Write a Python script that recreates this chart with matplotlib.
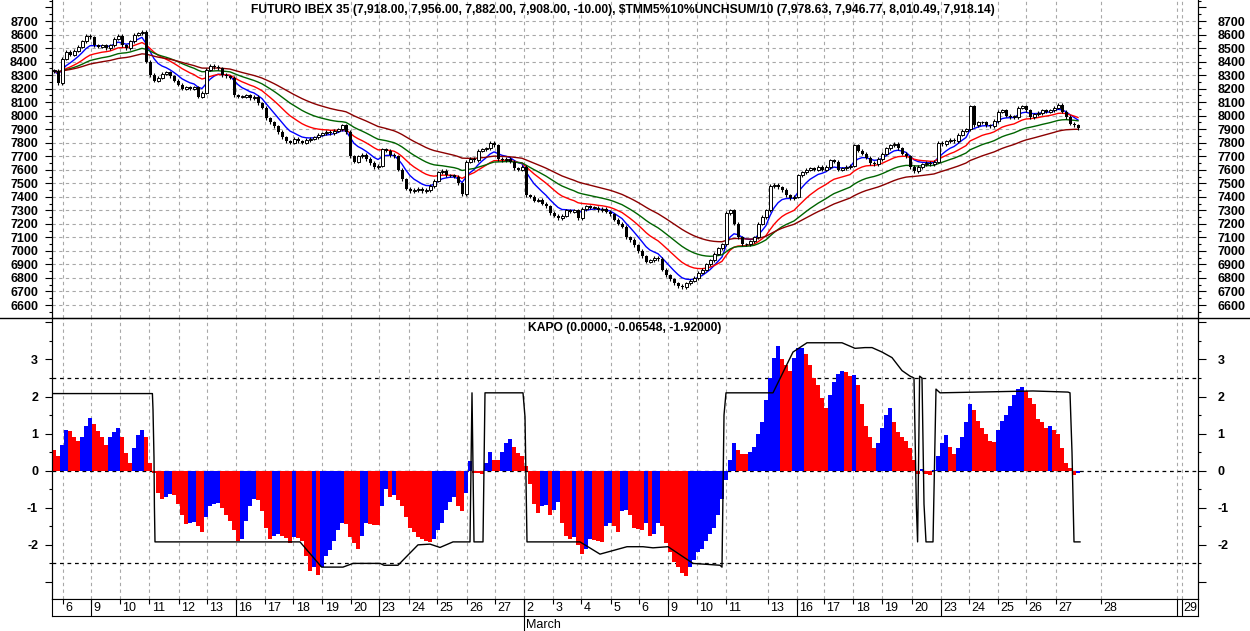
import matplotlib
matplotlib.use("Agg")
import matplotlib.pyplot as plt
from matplotlib.lines import Line2D
from matplotlib.ticker import FixedLocator, FuncFormatter
import numpy as np
import pandas as pd

plt.rcParams["font.family"] = ["Liberation Sans", "DejaVu Sans"]

# one close per bar (Feb 5 .. Mar 27)
closes = [
    8330, 8240, 8420, 8470, 8450, 8480, 8510, 8550, 8590, 8580,
    8520, 8510, 8520, 8500, 8520, 8570, 8590, 8520, 8500, 8550,
    8600, 8610, 8620, 8400, 8300, 8260, 8280, 8310, 8320, 8290,
    8260, 8230, 8200, 8210, 8200, 8210, 8140, 8170, 8340, 8370,
    8360, 8350, 8300, 8290, 8280, 8150, 8140, 8140, 8150, 8130,
    8140, 8090, 8060, 7980, 7950, 7920, 7880, 7840, 7810, 7800,
    7830, 7810, 7800, 7820, 7830, 7840, 7860, 7870, 7880, 7870,
    7890, 7900, 7930, 7880, 7700, 7660, 7700, 7710, 7680, 7650,
    7620, 7630, 7750, 7740, 7710, 7700, 7600, 7530, 7460, 7440,
    7450, 7460, 7440, 7450, 7480, 7520, 7580, 7590, 7560, 7560,
    7550, 7500, 7420, 7660, 7680, 7670, 7740, 7750, 7760, 7800,
    7780, 7680, 7670, 7680, 7660, 7610, 7600, 7620, 7410, 7400,
    7370, 7380, 7350, 7330, 7280, 7260, 7240, 7260, 7300, 7290,
    7300, 7240, 7310, 7330, 7320, 7320, 7300, 7310, 7290, 7270,
    7230, 7200, 7180, 7100, 7080, 7040, 7000, 6960, 6920, 6930,
    6950, 6940, 6860, 6820, 6790, 6760, 6740, 6730, 6760, 6780,
    6800, 6840, 6860, 6900, 6930, 6980, 7020, 7050, 7280, 7300,
    7200, 7100, 7050, 7050, 7070, 7100, 7200, 7250, 7300, 7480,
    7490, 7470, 7450, 7410, 7390, 7400, 7560, 7580, 7600, 7610,
    7600, 7620, 7600, 7620, 7670, 7660, 7600, 7610, 7620, 7630,
    7780, 7740, 7720, 7690, 7650, 7640, 7680, 7720, 7760, 7780,
    7790, 7760, 7720, 7700, 7620, 7590, 7620, 7640, 7650, 7640,
    7660, 7800, 7790, 7810, 7820, 7810, 7860, 7890, 7900, 8070,
    7930, 7950, 7950, 7930, 7920, 7960, 8030, 8040, 8000, 7990,
    7990, 8060, 8070, 8040, 7990, 8010, 8020, 8040, 8030, 8040,
    8060, 8080, 8030, 7990, 7940, 7930, 7908,
]

kapo = [
    0.55, 0.4, 0.7, 1.1, 1.08, 0.9, 0.8, 0.9, 1.2, 1.42,
    1.25, 1.08, 0.9, 0.7, 0.9, 1.05, 1.15, 0.92, 0.47, 0.22,
    0.6, 0.95, 1.1, 0.9, 0.2, -0.05, -0.6, -0.75, -0.7, -0.62,
    -0.65, -0.9, -1.2, -1.45, -1.4, -1.38, -1.5, -1.65, -1.25, -0.95,
    -0.9, -0.88, -1.0, -1.2, -1.35, -1.6, -1.9, -1.85, -1.35, -0.95,
    -0.75, -0.8, -1.1, -1.55, -1.85, -1.75, -1.72, -1.77, -1.82, -1.95,
    -1.8, -1.82, -1.9, -2.3, -2.7, -2.6, -2.8, -2.6, -2.3, -2.15,
    -1.9, -1.6, -1.4, -1.45, -1.8, -1.95, -2.1, -1.75, -1.4, -1.45,
    -1.46, -1.47, -0.95, -0.5, -0.7, -0.65, -0.8, -0.95, -1.25, -1.55,
    -1.65, -1.8, -1.85, -1.9, -1.92, -1.85, -1.6, -1.4, -1.05, -0.85,
    -0.7, -0.95, -1.1, -0.6, 0.25, -0.05, -0.06, -0.08, 0.2, 0.5,
    0.3, 0.29, 0.5, 0.75, 0.85, 0.65, 0.48, 0.4, 0.12, -0.35,
    -0.9, -1.15, -0.95, -0.93, -1.2, -1.05, -0.85, -1.4, -1.75, -1.85,
    -1.8, -2.0, -2.25, -2.1, -1.85, -1.87, -1.9, -1.92, -1.5, -1.4,
    -1.5, -1.65, -1.1, -1.05, -1.2, -1.55, -1.58, -1.6, -1.4, -1.75,
    -1.7, -1.4, -1.5, -1.95, -2.2, -2.45, -2.6, -2.75, -2.85, -2.6,
    -2.4, -2.2, -2.1, -1.9, -1.7, -1.55, -1.2, -0.75, -0.25, 0.3,
    0.75, 0.55, 0.45, 0.44, 0.5, 0.65, 1.0, 1.3, 1.9, 2.5,
    3.05, 3.35, 3.0, 2.85, 2.7, 3.05, 3.3, 3.32, 3.15, 2.85,
    2.5, 2.3, 1.95, 1.7, 2.05, 2.4, 2.6, 2.7, 2.65, 2.55,
    2.57, 2.3, 1.8, 1.2, 0.9, 0.6, 0.75, 1.15, 1.5, 1.7,
    1.3, 1.05, 0.9, 0.8, 0.6, 0.3, -0.1, 0.05, -0.1, -0.12,
    0.02, 0.4, 0.75, 0.95, 0.65, 0.45, 0.6, 0.9, 1.3, 1.8,
    1.65, 1.35, 1.15, 1.0, 0.8, 0.78, 1.1, 1.35, 1.5, 1.75,
    2.05, 2.2, 2.25, 2.15, 1.95, 1.8, 1.4, 1.3, 1.15, 1.2,
    1.1, 1.0, 0.6, 0.2, 0.08, -0.12, -0.065,
]

# KAPO signal line, vertices as (bar position, value)
signal_pos = [
    -0.5, 24.6, 24.75, 25.0, 25.1, 25.25, 61.5, 66.9, 72.25, 74.75,
    81.5, 82.5, 86.0, 91.0, 94.0, 96.5, 99.75, 104.0, 104.5, 105.0,
    107.25, 107.75, 117.25, 117.75, 118.25, 131.5, 136.5, 143.25, 147.25, 149.75,
    153.5, 159.75, 166.5, 167.0, 167.5, 168.0, 179.75, 184.75, 188.25, 197.0,
    200.25, 202.75, 204.5, 207.0, 209.5, 212.0, 214.0, 215.0, 215.6, 215.9,
    216.4, 217.0, 217.5, 218.0, 219.75, 220.5, 221.5, 244.75, 253.5, 254.0,
    254.5, 255.0, 256.5,
]
signal_val = [
    2.08, 2.08, 1.65, 0.35, -0.95, -1.92, -1.92, -2.6, -2.6, -2.5,
    -2.5, -2.55, -2.55, -2.0, -1.98, -2.07, -1.92, -1.92, 2.1, -1.92,
    -1.92, 2.1, 2.1, 1.45, -1.92, -1.92, -2.25, -2.05, -2.05, -2.08,
    -2.05, -2.5, -2.55, -2.6, 1.5, 2.1, 2.1, 3.2, 3.45, 3.45,
    3.3, 3.32, 3.32, 3.2, 3.05, 2.7, 2.55, 2.5, -1.0, -1.92,
    2.55, 2.5, -0.9, -1.92, -1.92, 2.2, 2.1, 2.15, 2.12, 2.1,
    0.5, -1.92, -1.92,
]

day_labels = ["6", "9", "10", "11", "12", "13", "16", "17", "18", "19", "20",
              "23", "24", "25", "26", "27", "2", "3", "4", "5", "6", "9", "10",
              "11", "13", "16", "17", "18", "19", "20", "23", "24", "25", "26",
              "27", "28"]
day_pos = [2.18, 9.33, 16.43, 23.83, 31.18, 38.18, 45.43, 52.68, 59.83, 67.08,
           74.18, 81.33, 88.63, 95.83, 103.18, 110.25, 117.43, 124.68, 131.83,
           139.18, 146.25, 153.43, 160.68, 167.93, 178.43, 185.68, 192.5,
           199.83, 206.93, 214.43, 221.68, 228.75, 235.93, 242.93, 250.43, 261.68]
week_pos = [9.33, 45.43, 81.33, 117.43, 153.43, 185.68, 221.68, 280.75, 282.1]
month_pos = 117.43
month_label = "March"
last_label = "29"

title_top = ("FUTURO IBEX 35 (7,918.00, 7,956.00, 7,882.00, 7,908.00, -10.00), "
             "$TMM5%10%UNCHSUM/10 (7,978.63, 7,946.77, 8,010.49, 7,918.14)")
title_kapo = "KAPO (0.0000, -0.06548, -1.92000)"

ma_spans = [7, 16, 28, 45]
ma_colors = ["#0000ff", "#ff0000", "#006400", "#8b0000"]

W, H = 1250, 631
fig = plt.figure(figsize=(W / 100, H / 100), dpi=100)


def box(x0, y0, x1, y1):
    return [x0 / W, 1 - y1 / H, (x1 - x0) / W, (y1 - y0) / H]


ax_p = fig.add_axes(box(52, 0, 1198, 318))
ax_k = fig.add_axes(box(52, 318, 1198, 598.7), sharex=ax_p)
ax_d = fig.add_axes(box(52, 598.7, 1198, 616), sharex=ax_p)
ax_p.set_xlim(-0.5, 286)

grid_kw = dict(color="#a8a8a8", lw=0.8, ls=(0, (3, 3)), zorder=0)
for pos in day_pos + week_pos[-2:]:
    ax_p.axvline(pos, **grid_kw)
    ax_k.axvline(pos, **grid_kw)
for v in range(6600, 8800, 100):
    ax_p.axhline(v, **grid_kw)

# price panel
x = np.arange(len(closes))
c = np.array(closes, dtype=float)
o = np.r_[c[0], c[:-1]]
WICK = 12
hi = np.maximum(o, c) + WICK
lo = np.minimum(o, c) - WICK

s = pd.Series(c)
for span, col in zip(ma_spans, ma_colors):
    ma = s.ewm(span=span, adjust=False).mean()
    ax_p.plot(x, ma, color=col, lw=1.0, zorder=2)

ax_p.vlines(x, lo, hi, color="black", lw=0.8, zorder=3)
up = c >= o
ax_p.bar(x[up], np.maximum(c - o, 4)[up], bottom=o[up], width=0.75,
         facecolor="white", edgecolor="black", lw=0.7, zorder=4)
ax_p.bar(x[~up], (o - c)[~up], bottom=c[~up], width=0.75,
         color="black", lw=0, zorder=4)

# KAPO panel
kv = np.array(kapo)
bar_colors = np.where(np.diff(kv, prepend=np.inf) < 0, "#ff0000", "#0000ff")
for lvl in (-2.5, 0, 2.5):
    ax_k.axhline(lvl, color="black", lw=0.9, ls=(0, (3, 3)), zorder=1)
ax_k.bar(x, kv, width=1.0, color=bar_colors, lw=0, zorder=2)
ax_k.plot(signal_pos, signal_val, color="black", lw=1.0, zorder=3)

ax_p.set_ylim(6503.9, 8855.3)
ax_k.set_ylim(-3.452, 4.118)


def setup_y(ax, major, minor, shown, side):
    ax.yaxis.set_major_locator(FixedLocator(major))
    ax.yaxis.set_minor_locator(FixedLocator(minor))
    ax.yaxis.set_major_formatter(FuncFormatter(
        lambda v, p: f"{v:.0f}" if shown[0] - 1e-6 <= v <= shown[1] + 1e-6 else ""))
    if side == "left":
        ax.tick_params(axis="y", which="both", direction="out", left=True,
                       right=False, labelleft=True, labelright=False, width=0.8)
        ax.tick_params(axis="y", which="major", length=5, pad=5)
    else:
        ax.tick_params(axis="y", which="both", direction="out", left=False,
                       right=True, labelleft=False, labelright=True, width=0.8)
        ax.tick_params(axis="y", which="major", length=6, pad=8)
    ax.tick_params(axis="y", which="minor", length=2.5)
    ax.tick_params(axis="y", labelsize=9)
    for lab in ax.get_yticklabels():
        lab.set_fontweight("bold")


p_major = list(range(6500, 8900, 100))
p_minor = list(range(6550, 8900, 100))
k_major = [-3, -2, -1, 0, 1, 2, 3, 4]
k_minor = [-3.5, -2.5, -1.5, -0.5, 0.5, 1.5, 2.5, 3.5]

for ax, major, minor, shown in [(ax_p, p_major, p_minor, (6600, 8700)),
                                (ax_k, k_major, k_minor, (-2, 3))]:
    twin = ax.twinx()
    twin.set_ylim(ax.get_ylim())
    setup_y(ax, major, minor, shown, "left")
    setup_y(twin, major, minor, shown, "right")
    for a in (ax, twin):
        a.spines["top"].set_visible(False)
        a.tick_params(axis="x", which="both", bottom=False, labelbottom=False)

ax_p.spines["bottom"].set_visible(False)

# date strip
ax_d.set_ylim(0, 1)
ax_d.set_yticks([])
ax_d.tick_params(axis="x", bottom=False, labelbottom=False)
ax_d.spines["top"].set_visible(False)
ax_d.vlines(day_pos, 0.7, 1.0, color="black", lw=0.8)
ax_d.vlines(week_pos, 0.0, 1.0, color="black", lw=0.8)
for lab, pos in zip(day_labels, day_pos):
    ax_d.text(pos + 0.6, 0.45, lab, ha="left", va="center", fontsize=9)
ax_d.text(week_pos[-1] + 0.3, 0.45, last_label, ha="left", va="center", fontsize=9)
ax_d.vlines([month_pos], -0.9, 1.0, color="black", lw=0.8, clip_on=False)
ax_d.text(month_pos + 0.6, -0.5, month_label, ha="left", va="center",
          fontsize=9, clip_on=False)

fig.add_artist(Line2D([0, 1], [1 - 318 / H] * 2, color="black", lw=1.0))
fig.text(623 / W, 1 - 10 / H, title_top, ha="center", va="center",
         fontsize=8.7, fontweight="bold")
fig.text(624.5 / W, 1 - 328 / H, title_kapo, ha="center", va="center",
         fontsize=8.7, fontweight="bold")

fig.savefig("out.png", dpi=100, facecolor="white")
